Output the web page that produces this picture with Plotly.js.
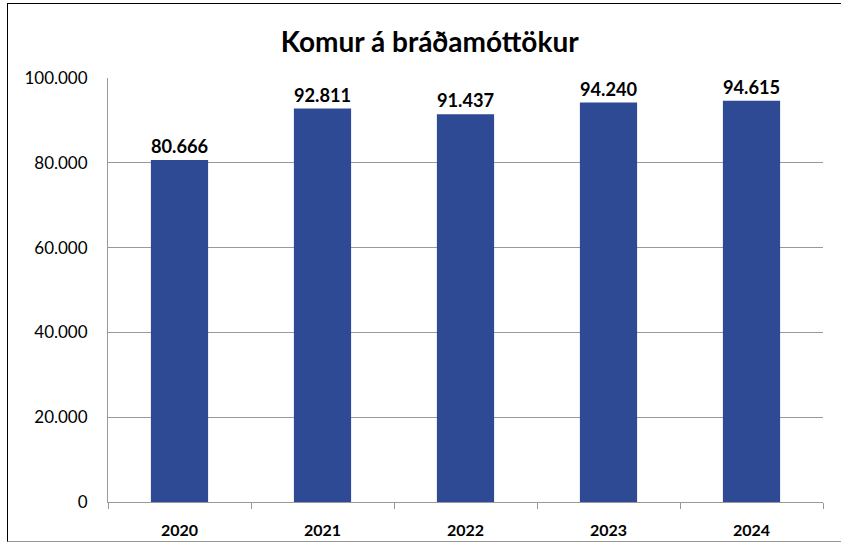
<!DOCTYPE html>
<html><head><meta charset="utf-8">
<script src="https://cdn.plot.ly/plotly-3.0.1.min.js"></script>
<style>
html,body{margin:0;padding:0;background:#fff;}
#wrap{position:relative;width:841px;height:545px;}
#border{position:absolute;left:7px;top:3px;width:840px;height:539px;border:1px solid #000;border-bottom-color:#999;box-sizing:border-box;pointer-events:none;}
#chart{position:absolute;left:0;top:0;width:841px;height:545px;}
</style></head>
<body><div id="wrap"><div id="chart"></div><div id="border"></div></div>
<script>
const years = ["2020","2021","2022","2023","2024"];
const visits = [80666, 92811, 91437, 94240, 94615];
const yTicks = [0, 20000, 40000, 60000, 80000, 100000];

const font = "Lato, 'Open Sans', sans-serif";
Plotly.newPlot('chart', [{
  type: 'bar', x: years, y: visits,
  marker: {color: 'rgb(46,74,148)'},
  texttemplate: '%{y:,}', textposition: 'outside',
  textfont: {family: font, size: 19, color: '#000', weight: 'bold'},
  cliponaxis: false, hoverinfo: 'skip'
}], {
  width: 841, height: 545,
  separators: ',.',
  margin: {l: 108, r: 18, t: 78, b: 43},
  paper_bgcolor: 'rgba(0,0,0,0)', plot_bgcolor: '#fff',
  title: {text: 'Komur á bráðamóttökur', x: 0.511, xanchor: 'center', y: 0.923, yanchor: 'middle',
    font: {family: font, size: 28, color: '#000', weight: 'bold'}},
  bargap: 0.6,
  showlegend: false,
  xaxis: {type: 'category', tickson: 'boundaries', ticks: 'outside', ticklen: 6, tickcolor: '#999',
    showline: true, linecolor: '#999', linewidth: 1, showgrid: false, ticklabelstandoff: 14,
    tickfont: {family: font, size: 16, color: '#000', weight: 'bold'}},
  yaxis: {range: [0, 100000], tickvals: yTicks, tickformat: ',d', showline: true, linecolor: '#999',
    gridcolor: '#999', gridwidth: 1, zeroline: false, ticks: '', ticklen: 0, ticklabelstandoff: 16,
    tickfont: {family: font, size: 17, color: '#000'}}
}, {displayModeBar: false, staticPlot: true});
</script></body></html>
